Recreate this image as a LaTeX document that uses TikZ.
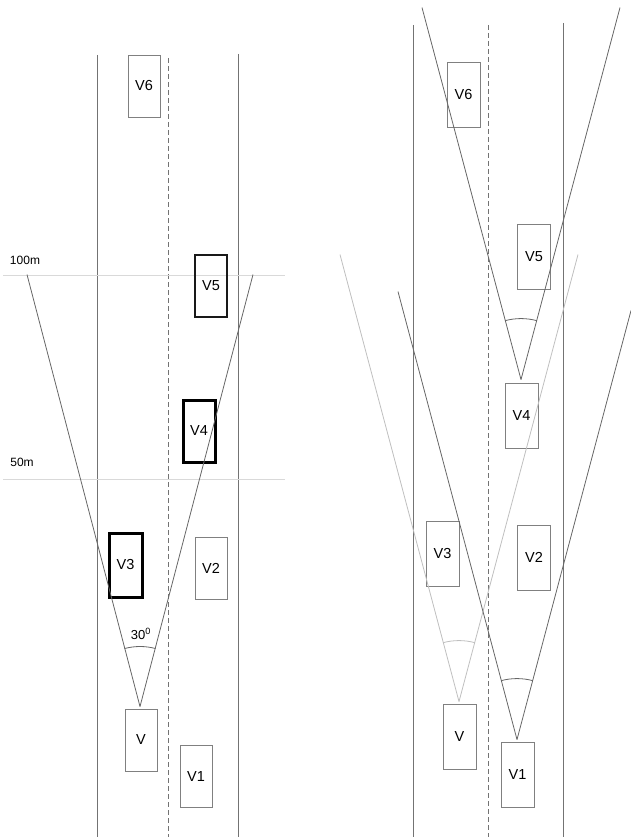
\documentclass[tikz,border=0pt]{standalone}
\usepackage{fontspec}
\setmainfont{Liberation Sans}
\usetikzlibrary{calc}
\begin{document}
\begin{tikzpicture}[x=1pt,y=-1pt,
  road/.style={draw=black!55,line width=0.9pt},
  lane/.style={draw=black!55,line width=0.9pt,dash pattern=on 5pt off 3pt},
  car/.style={draw=black!50,line width=0.9pt,inner sep=0pt,minimum width=32pt,minimum height=62pt,font=\fontsize{14.5}{14.5}\selectfont},
  carR/.style={car,minimum width=33pt,minimum height=65pt},
  hot/.style={draw=black,line width=3pt},
  warm/.style={draw=black!90,line width=2pt},
  ray/.style={draw=black!60,line width=0.8pt},
  rayL/.style={draw=black!25,line width=0.8pt},
  distline/.style={draw=black!15,line width=0.7pt},
  lbl/.style={font=\fontsize{12}{12}\selectfont,inner sep=0pt}]
\useasboundingbox (0,0) rectangle (631,837);
% ---------------- left panel ----------------
\coordinate (Lla) at (97,55);  \coordinate (Llb) at (97,837);
\coordinate (Lma) at (168,58); \coordinate (Lmb) at (168,837);
\coordinate (Lra) at (238,54); \coordinate (Lrb) at (238,837);
\draw[road] (Lla) -- (Llb);
\draw[lane] (Lma) -- (Lmb);
\draw[road] (Lra) -- (Lrb);
\coordinate (m100a) at (3,275); \coordinate (m100b) at (285,275);
\coordinate (m50a) at (3,479);  \coordinate (m50b) at (285,479);
\draw[distline] (m100a) -- (m100b);
\draw[distline] (m50a) -- (m50b);
\node[lbl] (t100) at (25,260) {100m};
\node[lbl] (t50) at (22,462) {50m};
\node[car] (LV6) at (144,86) {V6};
\node[car,warm] (LV5) at (211,286) {V5};
\node[car,hot] (LV4) at (199,431) {V4};
\node[car,hot,minimum width=33pt,minimum height=64pt] (LV3) at (125.5,565) {V3};
\node[car] (LV2) at (211,568) {V2};
\node[car] (LV) at (141,740) {V};
\node[car] (LV1) at (196,776.5) {V1};
\coordinate (LVa) at ($(LV.north)+(-1,-2)$);
\coordinate (LVl) at ($(LVa)+(-113,-432)$);
\coordinate (LVr) at ($(LVa)+(113,-432)$);
\draw[ray] (LVa) -- (LVl);
\draw[ray] (LVa) -- (LVr);
\draw[ray] ($(LVa)+(-15.5,-58)$) arc[start angle=255,end angle=285,radius=60];
\node[lbl,font=\fontsize{13}{13}\selectfont] (ang) at (141,634) {30\textsuperscript{0}};
% ---------------- right panel ----------------
\coordinate (Rla) at (413,25);  \coordinate (Rlb) at (413,837);
\coordinate (Rma) at (488,25);  \coordinate (Rmb) at (488,837);
\coordinate (Rra) at (563,23);  \coordinate (Rrb) at (563,837);
\draw[road] (Rla) -- (Rlb);
\draw[lane] (Rma) -- (Rmb);
\draw[road] (Rra) -- (Rrb);
\node[carR] (RV6) at (463.5,94.5) {V6};
\node[carR] (RV5) at (534,257) {V5};
\node[carR] (RV4) at (521.5,415.5) {V4};
\node[carR] (RV3) at (442.5,553.5) {V3};
\node[carR] (RV2) at (534,557.5) {V2};
\node[carR] (RV) at (459.5,736.5) {V};
\node[carR] (RV1) at (517.5,774.5) {V1};
% cone of V (light)
\coordinate (RVa) at ($(RV.north)+(-0.5,-2)$);
\coordinate (RVl) at ($(RVa)+(-119,-447)$);
\coordinate (RVr) at ($(RVa)+(119,-447)$);
\draw[rayL] (RVa) -- (RVl);
\draw[rayL] (RVa) -- (RVr);
\draw[rayL] ($(RVa)+(-15.8,-58.9)$) arc[start angle=255,end angle=285,radius=61];
% cone of V1
\coordinate (RV1a) at ($(RV1.north)+(-0.5,-2)$);
\coordinate (RV1l) at ($(RV1a)+(-119,-448)$);
\coordinate (RV1r) at ($(RV1a)+(114,-429)$);
\draw[ray] (RV1a) -- (RV1l);
\draw[ray] (RV1a) -- (RV1r);
\draw[ray] ($(RV1a)+(-15.8,-58.9)$) arc[start angle=255,end angle=285,radius=61];
% cone of V4
\coordinate (RV4a) at ($(RV4.north)+(-0.5,-3)$);
\coordinate (RV4l) at ($(RV4a)+(-99,-372)$);
\coordinate (RV4r) at ($(RV4a)+(99,-372)$);
\draw[ray] (RV4a) -- (RV4l);
\draw[ray] (RV4a) -- (RV4r);
\draw[ray] ($(RV4a)+(-15.8,-58.9)$) arc[start angle=255,end angle=285,radius=61];
\end{tikzpicture}
\end{document}
